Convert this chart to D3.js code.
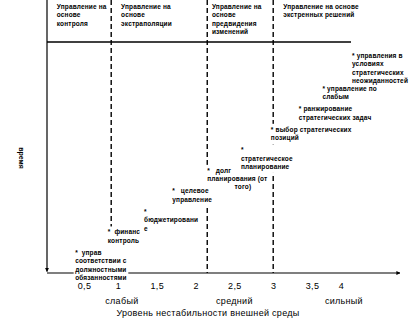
<!DOCTYPE html>
<html>
<head>
<meta charset="utf-8">
<script src="https://cdn.jsdelivr.net/npm/d3@7"></script>
<style>
  html, body { margin: 0; padding: 0; background: #fff; }
  svg { display: block; font-family: "Liberation Sans", Arial, sans-serif; }
  .note text, .zone text { font-size: 6.5px; font-weight: bold; fill: #000; white-space: pre; letter-spacing: 0.15px; }
</style>
</head>
<body>
<svg id="chart" width="410" height="327"></svg>
<script>
// Instability level axis
const tickValues = [0.5, 1, 1.5, 2, 2.5, 3, 3.5, 4];
const tickLabels = ["0,5", "1", "1,5", "2", "2,5", "3", "3,5", "4"];
const levelNames = ["слабый", "средний", "сильный"];
const levelNameAt = [1.05, 2.5, 4.05];

// Borders between management zones and their headers
const zoneBounds = [0.9, 2.15, 3.0];
const zoneTitles = [
  ["Управление на", "основе", "контроля"],
  ["Управление на", "основе", "экстраполяции"],
  ["Управление на", "основе", "предвидения", "изменений"],
  ["Управление на основе", "экстренных решений"]
];
const zoneTitleAt = [0.1, 1.04, 2.21, 3.13];

// Management practices: level of instability and moment in time
const practices = [
  ["*  управ", "соответствии с", "должностными", "обязанностями"],
  ["*  финанс", "контроль"],
  ["*", "бюджетировани", "е"],
  ["*   целевое", "управление"],
  ["*   долг", "планирования (от", "              того)"],
  ["*", "стратегическое", "планирование"],
  ["* выбор стратегических", "позиций"],
  ["* ранжирование", "стратегических задач"],
  ["* управление по", "слабым"],
  ["* управления в", "условиях", "стратегических", "неожиданностей"]
];
const practiceLevel = [0.37, 0.85, 1.335, 1.7, 2.15, 2.585, 2.97, 3.33, 3.68, 4.19];
const practiceTime = [1, 2, 3, 4, 5, 6, 7, 8, 9, 10.6];

const svg = d3.select("#chart");
const axisX = 47, axisY = 273, headerY = 42;

const x = d3.scaleLinear().domain([0.5, 1, 3.5, 4]).range([84, 118, 312, 341]);
const y = d3.scaleLinear().domain([0, 13.3]).range([axisY, 0]);

// arrow heads
const defs = svg.append("defs");
defs.append("marker")
  .attr("id", "arrow")
  .attr("viewBox", "0 0 10 10")
  .attr("refX", 9).attr("refY", 5)
  .attr("markerWidth", 4).attr("markerHeight", 4)
  .attr("markerUnits", "userSpaceOnUse")
  .attr("orient", "auto")
  .append("path").attr("d", "M0,0L10,5L0,10Z").attr("fill", "#000");

// zone borders
svg.append("g").selectAll("line").data(zoneBounds).join("line")
  .attr("x1", d => x(d)).attr("x2", d => x(d))
  .attr("y1", 0).attr("y2", axisY)
  .attr("stroke", "#000").attr("stroke-width", 1.4)
  .attr("stroke-dasharray", "5,3");

// header separator
svg.append("line")
  .attr("x1", axisX).attr("x2", 351)
  .attr("y1", headerY).attr("y2", headerY)
  .attr("stroke", "#000").attr("stroke-width", 1.3);

// time axis (pointing down) and level axis (pointing right)
svg.append("line")
  .attr("x1", axisX).attr("x2", axisX)
  .attr("y1", 0).attr("y2", axisY - 1.5)
  .attr("stroke", "#000").attr("stroke-width", 1.2)
  .attr("marker-end", "url(#arrow)");
svg.append("line")
  .attr("x1", axisX).attr("x2", 400)
  .attr("y1", axisY).attr("y2", axisY)
  .attr("stroke", "#000").attr("stroke-width", 1.2)
  .attr("marker-end", "url(#arrow)");

// zone headers
const zone = svg.append("g").attr("class", "zone");
zoneTitles.forEach((lines, i) => {
  const t = zone.append("text").attr("x", x(zoneTitleAt[i])).attr("y", 8.5);
  lines.forEach((s, k) => {
    t.append("tspan").attr("x", x(zoneTitleAt[i])).attr("y", 8.5 + k * 8.6).text(s);
  });
});

// practice notes: white boxes first, then all texts on top
const boxes = svg.append("g");
const notes = svg.append("g").attr("class", "note");
practices.forEach((lines, i) => {
  const x0 = x(practiceLevel[i]);
  const y0 = y(practiceTime[i]) + 2.5;
  const t = notes.append("text");
  lines.forEach((s, k) => {
    t.append("tspan").attr("x", x0).attr("y", y0 + k * 8.3).text(s);
  });
  const b = t.node().getBBox();
  boxes.append("rect").attr("fill", "#fff")
    .attr("x", b.x - 1.5).attr("y", b.y - 2)
    .attr("width", b.width + 3).attr("height", b.height + 4);
});

// level axis labels
const xAxis = d3.axisBottom(x)
  .tickValues(tickValues)
  .tickFormat((d, i) => tickLabels[i])
  .tickSize(0).tickPadding(10);
const ax = svg.append("g").attr("transform", `translate(0,${axisY})`).call(xAxis);
ax.select(".domain").remove();
ax.selectAll("text")
  .attr("font-family", "\"Liberation Sans\", Arial, sans-serif")
  .attr("font-size", 9).attr("letter-spacing", 0.4).attr("fill", "#000");

svg.append("g").selectAll("text").data(levelNames).join("text")
  .attr("x", (d, i) => x(levelNameAt[i])).attr("y", 304)
  .attr("text-anchor", "middle").attr("font-size", 9).attr("letter-spacing", 0.3)
  .text(d => d);

svg.append("text")
  .attr("x", 208).attr("y", 316)
  .attr("text-anchor", "middle").attr("font-size", 9).attr("letter-spacing", 0.3)
  .text("Уровень нестабильности внешней среды");

svg.append("text")
  .attr("transform", "translate(19,158) rotate(90)")
  .attr("text-anchor", "middle").attr("font-size", 7).attr("font-weight", "bold")
  .text("время");
</script>
</body>
</html>
